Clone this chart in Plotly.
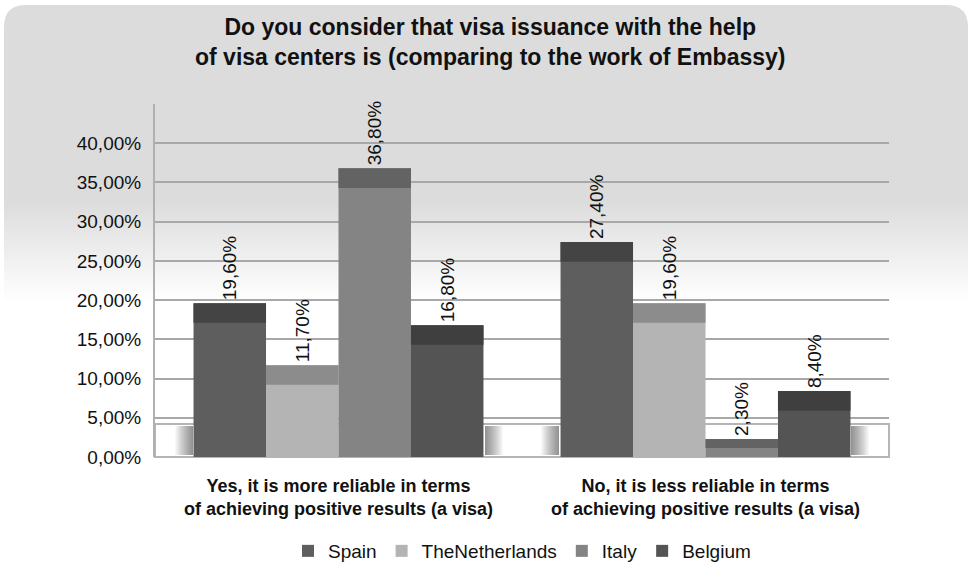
import plotly.graph_objects as go

# Survey answers (percent of respondents)
categories = [
    "Yes, it is more reliable in terms<br>of achieving positive results (a visa)",
    "No, it is less reliable in terms<br>of achieving positive results (a visa)",
]
countries = ["Spain", "TheNetherlands", "Italy", "Belgium"]
values = {
    "Spain": [19.6, 27.4],
    "TheNetherlands": [11.7, 19.6],
    "Italy": [36.8, 2.3],
    "Belgium": [16.8, 8.4],
}
y_ticks = [0, 5, 10, 15, 20, 25, 30, 35, 40]

# Front-face and top-face shades for each country
front_colors = {"Spain": "#5e5e5e", "TheNetherlands": "#b4b4b4", "Italy": "#848484", "Belgium": "#545454"}
top_colors = {"Spain": "#444444", "TheNetherlands": "#8c8c8c", "Italy": "#636363", "Belgium": "#3f3f3f"}
TOP_DEPTH = 2.5
Y_MAX = 45

W, H = 972, 564
ML, MR, MT, MB = 155, 83, 104, 107
PW, PH = W - ML - MR, H - MT - MB
FONT = "Liberation Sans"


def px(x):
    return (x - ML) / PW


def py(y):
    return (H - MB - y) / PH


def pct(v):
    return f"{v:.2f}".replace(".", ",") + "%"


fig = go.Figure()

for c in countries:
    v = values[c]
    fig.add_trace(go.Bar(
        name=c, x=categories, y=v, offsetgroup=c,
        marker=dict(color=front_colors[c], line=dict(width=0)),
        texttemplate="%{y:.2f}%", textposition="outside", textangle=-90,
        textfont=dict(size=19, color="#111111", family=FONT),
        cliponaxis=False,
    ))
for c in countries:
    v = values[c]
    depth = [min(TOP_DEPTH, a / 2) for a in v]
    fig.add_trace(go.Bar(
        x=categories, y=depth, base=[a - d for a, d in zip(v, depth)],
        offsetgroup=c, showlegend=False, hoverinfo="skip",
        marker=dict(color=top_colors[c], line=dict(width=0)),
    ))

shapes = []
# Rounded grey backdrop fading to white
x0, x1 = px(4), px(968)
yt, yb, r = py(5), py(200), 22 / PH
rx = 22 / PW
shapes.append(dict(
    type="path", xref="paper", yref="paper", layer="below",
    path=(f"M {x0},{yb} L {x0},{yt - r} Q {x0},{yt} {x0 + rx},{yt} "
          f"L {x1 - rx},{yt} Q {x1},{yt} {x1},{yt - r} L {x1},{yb} Z"),
    fillcolor="#dcdcdc", line=dict(width=0),
))
n = 50
for i in range(n):
    ya, yb2 = 200 + i * 2, 200 + (i + 1) * 2 + 0.5
    g = int(220 + (255 - 220) * (i + 0.5) / n)
    shapes.append(dict(
        type="rect", xref="paper", yref="paper", layer="below",
        x0=x0, x1=x1, y0=py(yb2), y1=py(ya),
        fillcolor=f"rgb({g},{g},{g})", line=dict(width=0),
    ))
# Floor band
shapes.append(dict(
    type="rect", xref="paper", yref="paper", layer="below",
    x0=0, x1=1, y0=0, y1=py(424),
    fillcolor="white", line=dict(color="#b5b5b5", width=2),
))
# Soft shadows on the floor beside each bar group (overlapping translucent strips)
for left, right in [(193, 485), (559, 851)]:
    for k in range(1, 19):
        shapes.append(dict(
            type="rect", xref="paper", yref="paper", layer="below",
            x0=px(left - k), x1=px(left), y0=py(455), y1=py(426),
            fillcolor="rgba(0,0,0,0.028)", line=dict(width=0),
        ))
        shapes.append(dict(
            type="rect", xref="paper", yref="paper", layer="below",
            x0=px(right), x1=px(right + k), y0=py(455), y1=py(426),
            fillcolor="rgba(0,0,0,0.028)", line=dict(width=0),
        ))

grid_vals = y_ticks + [Y_MAX]
grid_text = [pct(v) for v in y_ticks] + [""]

fig.update_layout(
    width=W, height=H,
    margin=dict(l=ML, r=MR, t=MT, b=MB, autoexpand=False),
    paper_bgcolor="white", plot_bgcolor="rgba(0,0,0,0)",
    separators=",.",
    barmode="group", bargap=0.21, bargroupgap=0,
    font=dict(family=FONT, color="#111111"),
    xaxis=dict(
        showgrid=False, showline=False, ticks="", automargin=False,
        tickfont=dict(size=18, family=FONT, color="#111111", weight="bold"),
        ticklabelstandoff=16,
    ),
    yaxis=dict(
        range=[0, Y_MAX], tickvals=grid_vals, ticktext=grid_text,
        showgrid=True, gridcolor="#a8a8a8", gridwidth=2, automargin=False,
        showline=True, linecolor="#b0b0b0", linewidth=2, mirror=False,
        zeroline=False, ticks="",
        tickfont=dict(size=19, family=FONT, color="#111111"),
        ticklabelstandoff=8,
    ),
    legend=dict(
        orientation="h", x=0.5, xanchor="center",
        yref="container", y=(H - 551) / H, yanchor="middle",
        font=dict(size=19, family=FONT, color="#111111"),
        bgcolor="rgba(0,0,0,0)", traceorder="normal",
    ),
    annotations=[dict(
        text="<b>Do you consider that visa issuance with the help<br>"
             "of visa centers is (comparing to the work of Embassy)</b>",
        xref="paper", yref="paper", x=px(490), y=py(42),
        xanchor="center", yanchor="middle", showarrow=False,
        font=dict(size=23, family=FONT, color="#111111"),
    )],
    shapes=shapes,
)

fig.write_html("out.html")
